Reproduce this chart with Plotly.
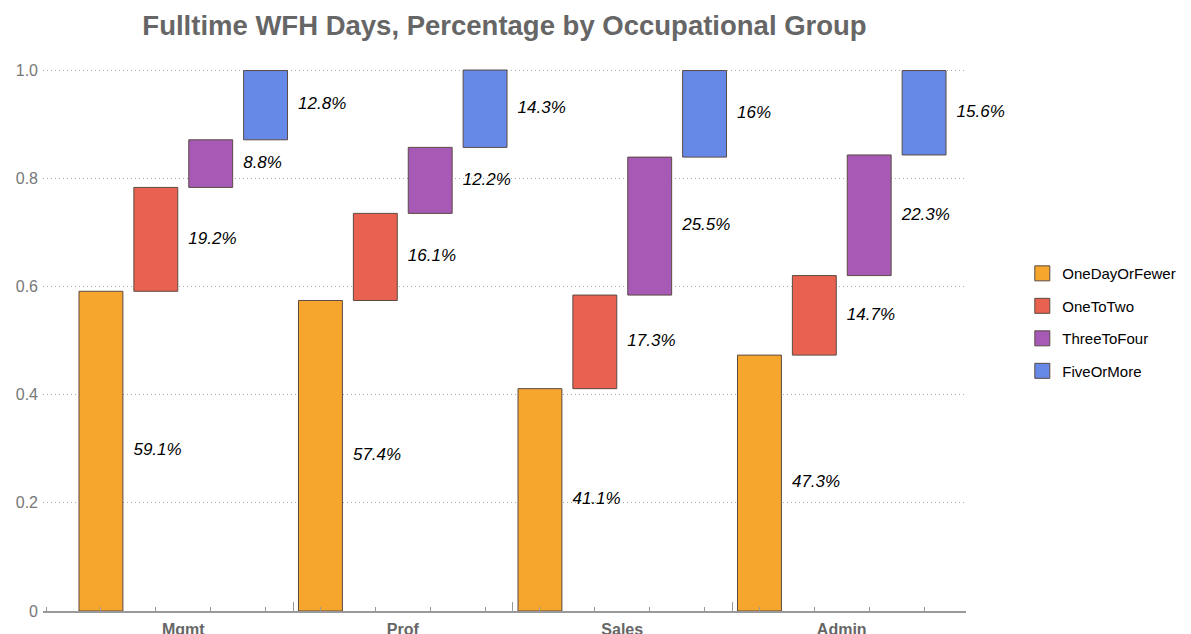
import plotly.graph_objects as go

categories = ["Mgmt", "Prof", "Sales", "Admin"]
series_names = ["OneDayOrFewer", "OneToTwo", "ThreeToFour", "FiveOrMore"]
one_day_or_fewer = [59.1, 57.4, 41.1, 47.3]
one_to_two = [19.2, 16.1, 17.3, 14.7]
three_to_four = [8.8, 12.2, 25.5, 22.3]
five_or_more = [12.8, 14.3, 16.0, 15.6]
y_ticks = [0, 0.2, 0.4, 0.6, 0.8, 1.0]
y_tick_labels = ["0", "0.2", "0.4", "0.6", "0.8", "1.0"]

series_values = [one_day_or_fewer, one_to_two, three_to_four, five_or_more]
colors = ["#F6A52D", "#E9624F", "#A65AB5", "#6689E8"]
edge = "#5a4a44"
font_family = "Liberation Sans, Arial, sans-serif"

n_series = len(series_names)
bargroupgap = 0.2
slot = 1.0 / n_series
half_bar = slot * (1 - bargroupgap) / 2
label_gap = 0.048

fig = go.Figure()
bases = [0.0] * len(categories)
label_x, label_y, label_text = [], [], []
for k, (name, vals) in enumerate(zip(series_names, series_values)):
    frac = [v / 100 for v in vals]
    fig.add_trace(go.Bar(
        x=categories, y=frac, base=list(bases), name=name,
        marker=dict(color=colors[k], line=dict(color=edge, width=1)),
        legendgroup=name, showlegend=False,
    ))
    # legend entry with a larger square swatch
    fig.add_trace(go.Scatter(
        x=[None], y=[None], mode="markers", name=name, legendgroup=name,
        marker=dict(symbol="square", size=15, color=colors[k],
                    line=dict(color=edge, width=1)),
        xaxis="x2", showlegend=True, hoverinfo="skip",
    ))
    for i, f in enumerate(frac):
        label_x.append(i + (k - (n_series - 1) / 2) * slot + half_bar + label_gap)
        label_y.append(bases[i] + f / 2)
        label_text.append(f"{vals[i]:g}%")
    bases = [b + f for b, f in zip(bases, frac)]

fig.add_trace(go.Scatter(
    x=label_x, y=label_y, text=label_text, mode="text",
    textposition="middle right", cliponaxis=False,
    textfont=dict(family=font_family, size=17, color="black", style="italic"),
    xaxis="x2", yaxis="y", showlegend=False, hoverinfo="skip",
))

W, H = 1175, 626
xr = [-0.639, 3.566]
fig.update_layout(
    width=W, height=H,
    paper_bgcolor="white", plot_bgcolor="white",
    margin=dict(l=35, r=217, t=42, b=23, autoexpand=False),
    barmode="group", bargap=0, bargroupgap=bargroupgap,
    title=dict(
        text="<b>Fulltime WFH Days, Percentage by Occupational Group</b>",
        font=dict(family=font_family, size=27.5, color="#666666"),
        xref="paper", x=0.5, xanchor="center",
        yref="container", y=1 - 17 / H, yanchor="middle",
    ),
    font=dict(family=font_family),
    xaxis=dict(
        type="category", range=xr, categoryorder="array", categoryarray=categories,
        tickvals=categories, ticktext=[f"<b>{c}</b>" for c in categories],
        tickfont=dict(family=font_family, size=16, color="#666666"),
        ticks="", showgrid=False, zeroline=False, automargin=False,
        showline=True, linecolor="#999999", linewidth=1.5,
        ticklabelstandoff=3,
    ),
    xaxis2=dict(
        overlaying="x", side="bottom", range=xr, type="linear",
        showgrid=False, zeroline=False, showline=False, automargin=False,
        showticklabels=False,
        tickvals=[i + 0.5 for i in range(len(categories) - 1)],
        ticks="inside", ticklen=9, tickcolor="#999999", tickwidth=1,
        minor=dict(ticks="inside", tick0=slot / 2, dtick=slot, ticklen=4,
                   tickcolor="#999999", tickwidth=1),
    ),
    yaxis=dict(
        range=[0, 1.037], tickvals=y_ticks, ticktext=y_tick_labels,
        tickfont=dict(family=font_family, size=16, color="#777777"),
        showgrid=True, gridcolor="#aaaaaa", griddash="1px,3px", gridwidth=1.2,
        zeroline=False, showline=False, ticks="", ticklabelstandoff=4,
        automargin=False,
    ),
    legend=dict(
        x=1.061, y=0.515, xanchor="left", yanchor="middle",
        font=dict(family=font_family, size=15, color="black"),
        traceorder="grouped", tracegroupgap=10, itemwidth=30,
        itemsizing="trace",
    ),
)

fig.write_html("out.html")
